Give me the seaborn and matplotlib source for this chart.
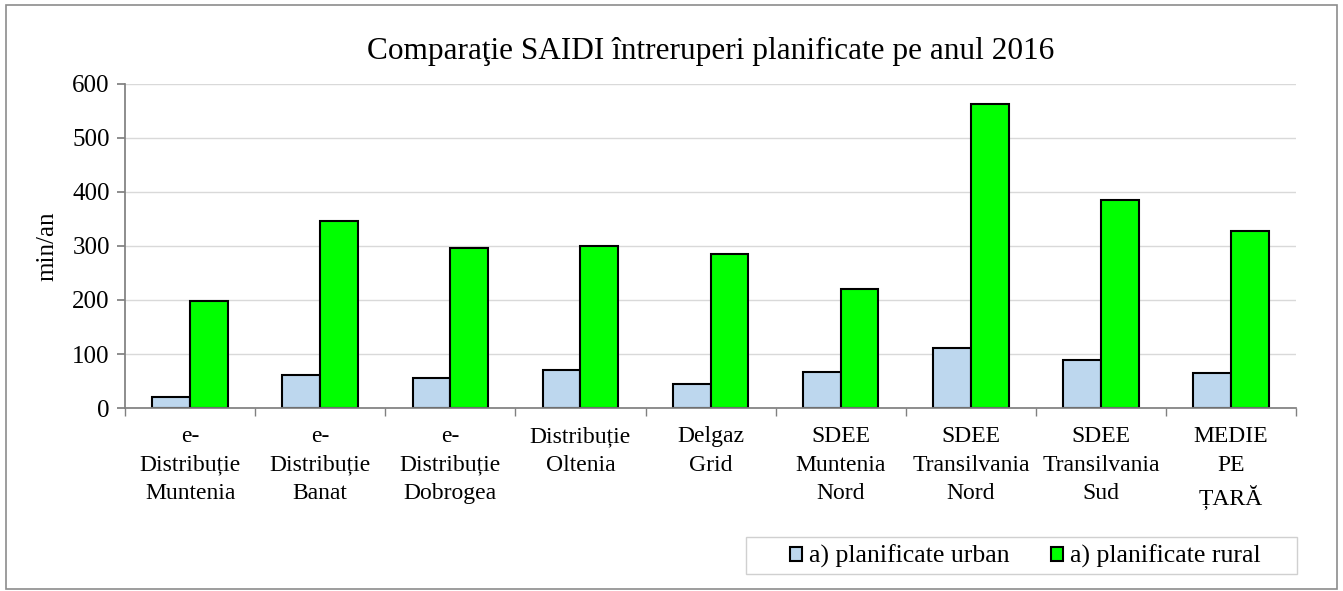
import numpy as np
import pandas as pd
import seaborn as sns
import matplotlib.pyplot as plt
from matplotlib.patches import Rectangle

# Data
categories = [
    "e-\nDistribuție\nMuntenia",
    "e-\nDistribuție\nBanat",
    "e-\nDistribuție\nDobrogea",
    "Distribuție\nOltenia",
    "Delgaz\nGrid",
    "SDEE\nMuntenia\nNord",
    "SDEE\nTransilvania\nNord",
    "SDEE\nTransilvania\nSud",
    "MEDIE\nPE\nȚARĂ",
]
urban = [20, 61, 55, 71, 45, 67, 112, 89, 64]
rural = [199, 347, 297, 300, 285, 221, 562, 386, 327]
series_names = ["a) planificate urban", "a) planificate rural"]
colors = ["#BDD7EE", "#00FF00"]

df = pd.DataFrame({
    "cat": categories * 2,
    "val": urban + rural,
    "series": [series_names[0]] * len(categories) + [series_names[1]] * len(categories),
})

sns.set_theme(style="white")
plt.rcParams["font.family"] = ["Liberation Serif", "DejaVu Serif"]
plt.rcParams["text.color"] = "black"
plt.rcParams["xtick.color"] = "black"
plt.rcParams["ytick.color"] = "black"
plt.rcParams["axes.labelcolor"] = "black"

fig = plt.figure(figsize=(13.43, 5.91), dpi=100)
ax = fig.add_axes([0.0931, 0.3096, 0.872, 0.5484])

sns.barplot(data=df, x="cat", y="val", hue="series", palette=colors,
            saturation=1, width=0.58, edgecolor="black", linewidth=1.5, ax=ax)

# Axes styling
ax.set_ylim(0, 600)
ax.set_xlim(-0.5, len(categories) - 0.5)
ax.set_yticks(np.arange(0, 601, 100))
ax.yaxis.grid(True, color="#d9d9d9", linewidth=1)
ax.set_axisbelow(True)
for s in ["top", "right"]:
    ax.spines[s].set_visible(False)
ax.spines["left"].set_color("#808080")
ax.spines["bottom"].set_color("#808080")
ax.tick_params(axis="y", labelsize=18, length=6, color="#808080", left=True, pad=5)
ax.set_xticks(range(len(categories)), categories, linespacing=1.47)
ax.tick_params(axis="x", which="major", labelsize=17, length=0, pad=13)
ax.set_xticks(np.arange(-0.5, len(categories), 1), minor=True)
ax.tick_params(axis="x", which="minor", length=6, color="#808080", bottom=True)
ax.set_xlabel("")
ax.set_ylabel("min/an", fontsize=18, labelpad=10)
ax.set_title("Comparaţie SAIDI întreruperi planificate pe anul 2016",
             fontsize=22.5, pad=18)

# Legend at bottom right, with a hand-drawn box
handles, labels = ax.get_legend_handles_labels()
ax.get_legend().remove()
fig.legend(handles, labels, loc="center", bbox_to_anchor=(0.7632, 0.058),
           ncol=2, fontsize=18.5, frameon=False,
           handlelength=0.5, handleheight=0.5, handletextpad=0.25,
           columnspacing=1.6, borderpad=0.2)
fig.patches.append(Rectangle((746 / 1343, 1 - 574 / 591), 551 / 1343, 37 / 591,
                             transform=fig.transFigure, fill=False,
                             edgecolor="#d0d0d0", linewidth=1))

# Outer chart border
fig.patches.append(Rectangle((0.0045, 0.004), 0.991, 0.987, transform=fig.transFigure,
                             fill=False, edgecolor="#8c8c8c", linewidth=1.2))

fig.savefig("out.png", dpi=100)
